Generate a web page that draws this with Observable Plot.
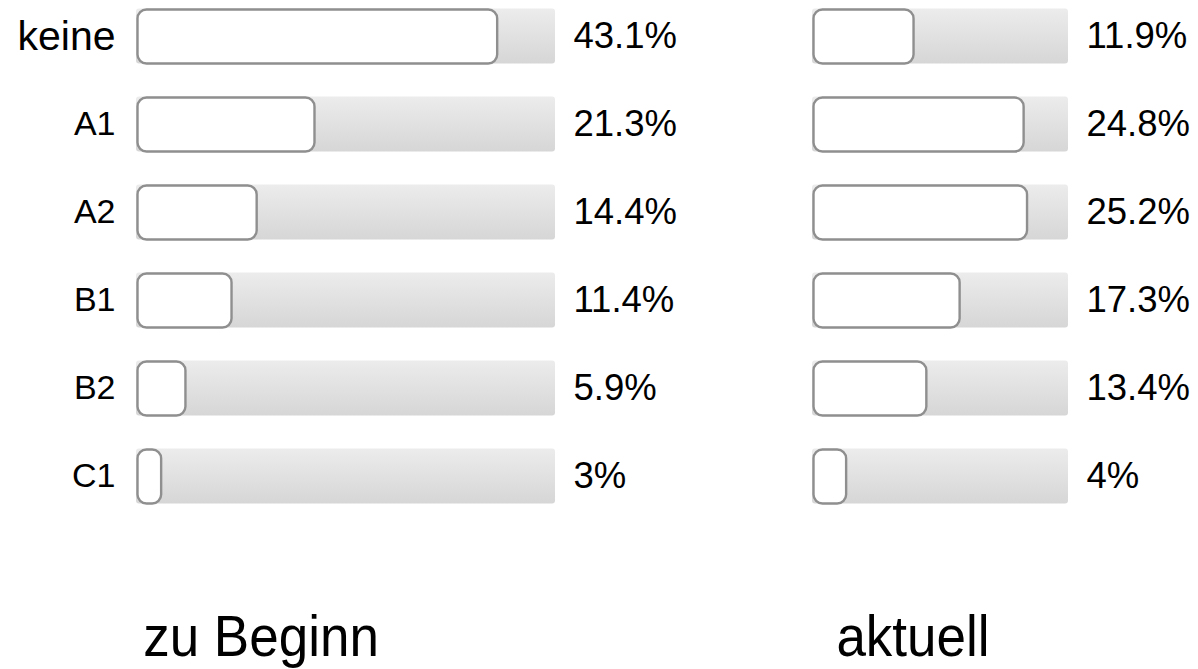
<!DOCTYPE html>
<html><head><meta charset="utf-8">
<script src="https://cdn.jsdelivr.net/npm/d3@7"></script>
<script src="https://cdn.jsdelivr.net/npm/@observablehq/plot@0.6"></script>
<style>
html,body{margin:0;padding:0;background:#fff;}
#wrap{position:relative;width:1198px;height:669px;overflow:hidden;font-family:"Liberation Sans",Arial,sans-serif;}
#wrap svg{position:absolute;left:0;top:0;}
.cap{position:absolute;font-size:53px;color:#000;white-space:nowrap;transform:translateX(-50%) scaleY(1.08);line-height:1;}
</style></head><body><div id="wrap"></div>
<script>
const levels = ["keine", "A1", "A2", "B1", "B2", "C1"];
const beginValues = [43.1, 21.3, 14.4, 11.4, 5.9, 3];
const currentValues = [11.9, 24.8, 25.2, 17.3, 13.4, 4];
const panelTitles = ["zu Beginn", "aktuell"];
const scaleMax = [50, 30];

const wrap = document.getElementById("wrap");

function gradientMark(id) {
  return () => {
    const defs = d3.create("svg:defs");
    const g = defs.append("linearGradient").attr("id", id)
      .attr("x1", 0).attr("y1", 0).attr("x2", 0).attr("y2", 1);
    g.append("stop").attr("offset", "0%").attr("stop-color", "#ececec");
    g.append("stop").attr("offset", "100%").attr("stop-color", "#d6d6d6");
    return defs.node();
  };
}

function panel(values, max, xRange, showLabels, gid) {
  const rows = levels.map((level, i) => ({level, value: values[i], max}));
  const marks = [
    gradientMark(gid),
    Plot.barX(rows, {x1: () => 0, x2: "max", y: "level", fill: `url(#${gid})`,
      insetTop: 16.4, insetBottom: 16.4, rx: 3}),
    Plot.barX(rows, {x1: () => 0, x2: "value", y: "level", fill: "white",
      stroke: "#8f8f8f", strokeWidth: 2.4, insetTop: 17.5, insetBottom: 16.5, insetLeft: 1.5, rx: 9}),
    Plot.text(rows, {x: "max", y: "level", text: d => `${d.value}%`, textAnchor: "start",
      dx: 18, fontSize: 36.5, fill: "#000"})
  ];
  if (showLabels) {
    marks.push(Plot.text(rows, {x: () => 0, y: "level", text: "level", textAnchor: "end",
      dx: -21, fontSize: d => d.level === "keine" ? 41 : 34, fill: "#000"}));
  }
  return Plot.plot({
    width: 1198, height: 669,
    margin: 0,
    x: {domain: [0, max], range: xRange, axis: null},
    y: {domain: levels, range: [-10.4, 522.4], padding: 0, axis: null},
    style: {fontFamily: "'Liberation Sans', Arial, sans-serif", background: "transparent", overflow: "visible"},
    marks
  });
}

wrap.append(panel(beginValues, scaleMax[0], [136, 555], true, "gradL"));
wrap.append(panel(currentValues, scaleMax[1], [812, 1068], false, "gradR"));

const capX = [261, 913];
panelTitles.forEach((t, i) => {
  const d = document.createElement("div");
  d.className = "cap";
  d.textContent = t;
  d.style.left = capX[i] + "px";
  d.style.top = "610px";
  wrap.append(d);
});
</script>
</body></html>
